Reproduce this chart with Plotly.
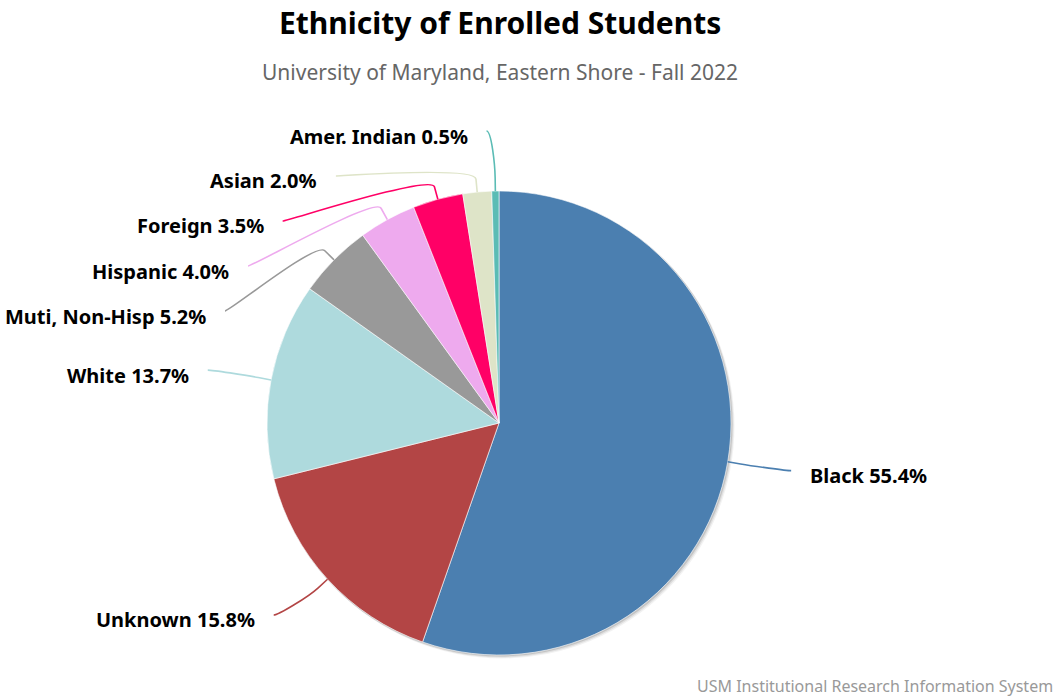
import math
import plotly.graph_objects as go

# ---- data ----
categories = ["Black", "Unknown", "White", "Muti, Non-Hisp", "Hispanic",
              "Foreign", "Asian", "Amer. Indian"]
percents = [55.4, 15.8, 13.7, 5.2, 4.0, 3.5, 2.0, 0.5]
slice_colors = ["#4b7fb0", "#b34545", "#aedadd", "#999999", "#eeaaee",
                "#ff0066", "#dee4c8", "#5bbcb5"]
title_text = "Ethnicity of Enrolled Students"
subtitle_text = "University of Maryland, Eastern Shore - Fall 2022"
credit_text = "USM Institutional Research Information System"

# ---- layout geometry (window pixels) ----
W, H = 1060, 696
OFF = 0          # page body margin removed via post_script
cx, cy, r = 499, 423, 232
R_nat = 285      # natural label radius
R_end = 296      # connector end radius
gap = 17
spacing = 45
FONT = "Noto Sans"


def px(x):
    return (x - OFF) / W


def py(y):
    return 1 - (y - OFF) / H


total = sum(percents)
mids = []
cum = 0.0
for v in percents:
    mids.append((cum + v / 2) / total * 2 * math.pi)
    cum += v


def distribute(nat, lo, hi):
    order = sorted(range(len(nat)), key=lambda i: nat[i])
    clusters = [[i] for i in order]

    def place(cl):
        n = len(cl)
        mean = sum(nat[i] for i in cl) / n
        s = mean - spacing * (n - 1) / 2
        s = max(lo, min(s, hi - spacing * (n - 1)))
        return s

    merged = True
    while merged:
        merged = False
        for k in range(len(clusters) - 1):
            s1 = place(clusters[k])
            e1 = s1 + spacing * (len(clusters[k]) - 1)
            s2 = place(clusters[k + 1])
            if s2 - e1 < spacing:
                clusters[k] = clusters[k] + clusters[k + 1]
                del clusters[k + 1]
                merged = True
                break
    out = {}
    for cl in clusters:
        s = place(cl)
        for j, i in enumerate(cl):
            out[i] = s + spacing * j
    return out


lo, hi = cy - 292, cy + 292
nat_y = [cy - R_nat * math.cos(t) for t in mids]
left_idx = [i for i, t in enumerate(mids) if t > math.pi]
right_idx = [i for i, t in enumerate(mids) if t <= math.pi]
yend = {}
for side in (left_idx, right_idx):
    d = distribute([nat_y[i] for i in side], lo, hi)
    for k, i in enumerate(side):
        yend[i] = d[k]

shapes = []
annotations = []

# soft shadow behind the pie
for off, op in ((3, 0.05), (2, 0.08), (1, 0.12)):
    shapes.append(dict(type="circle", xref="paper", yref="paper", layer="below",
                       x0=px(cx - r - 0.5 + off), x1=px(cx + r + 0.5 + off),
                       y0=py(cy + r + 0.5 + off), y1=py(cy - r - 0.5 + off),
                       fillcolor=f"rgba(0,0,0,{op})", line=dict(width=0)))

for i, t in enumerate(mids):
    left = t > math.pi
    sgn = -1 if left else 1
    ye = yend[i]
    dy = ye - cy
    if abs(dy) > R_end - 8:
        xe = cx + R_nat * math.sin(t) - 8
    else:
        xe = cx + sgn * math.sqrt(R_end ** 2 - dy ** 2)
    tx, ty = cx + r * math.sin(t), cy - r * math.cos(t)
    bx, by = cx + (r + 13) * math.sin(t), cy - (r + 13) * math.cos(t)
    c1x = xe + (5 if left else -5)
    c2x, c2y = 2 * bx - tx, 2 * by - ty
    path = (f"M {px(xe)},{py(ye)} C {px(c1x)},{py(ye)} {px(c2x)},{py(c2y)} "
            f"{px(bx)},{py(by)} L {px(tx)},{py(ty)}")
    shapes.append(dict(type="path", xref="paper", yref="paper", path=path,
                       line=dict(color=slice_colors[i], width=1.6)))
    annotations.append(dict(
        xref="paper", yref="paper", x=px(xe + sgn * gap), y=py(ye + 5),
        xanchor="right" if left else "left", yanchor="middle",
        text=f"<b>{categories[i]} {percents[i]:.1f}%</b>", showarrow=False,
        font=dict(family=FONT, size=20, color="#000000")))

annotations.append(dict(xref="paper", yref="paper", x=px(500), y=py(22),
                        xanchor="center", yanchor="middle", showarrow=False,
                        text=f"<b>{title_text}</b>",
                        font=dict(family=FONT, size=30, color="#000000")))
annotations.append(dict(xref="paper", yref="paper", x=px(500), y=py(72),
                        xanchor="center", yanchor="middle", showarrow=False,
                        text=subtitle_text,
                        font=dict(family=FONT, size=21, color="#666666")))
annotations.append(dict(xref="paper", yref="paper", x=px(1055), y=py(686),
                        xanchor="right", yanchor="middle", showarrow=False,
                        text=credit_text,
                        font=dict(family=FONT, size=16, color="#999999")))

fig = go.Figure(go.Pie(
    labels=categories, values=percents, sort=False, direction="clockwise",
    rotation=0, textinfo="none", hole=0,
    marker=dict(colors=slice_colors, line=dict(color="#ffffff", width=0.6)),
    domain=dict(x=[px(cx - r), px(cx + r)], y=[py(cy + r), py(cy - r)]),
    hovertemplate="%{label}: %{value:.1f}%<extra></extra>"))

fig.update_layout(width=W, height=H, margin=dict(l=0, r=0, t=0, b=0),
                  paper_bgcolor="#ffffff", plot_bgcolor="#ffffff",
                  showlegend=False, shapes=shapes, annotations=annotations)
fig.write_html("out.html", config={"displayModeBar": False},
               post_script="document.body.style.margin='0';"
                           "document.body.style.overflow='hidden';")
